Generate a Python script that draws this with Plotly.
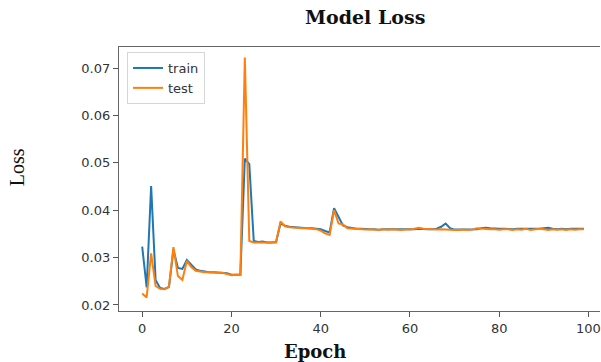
import plotly.graph_objects as go

epochs = list(range(100))

train_loss = [
    0.0323, 0.0237, 0.0451, 0.0253, 0.0236, 0.0234, 0.0238, 0.0317, 0.0278, 0.0276,
    0.0295, 0.0285, 0.0275, 0.0272, 0.0270, 0.0269, 0.0269, 0.0268, 0.0268, 0.0267,
    0.0264, 0.0264, 0.0264, 0.0509, 0.0497, 0.0335, 0.0333, 0.0334, 0.0332, 0.0332,
    0.0333, 0.0372, 0.0367, 0.0365, 0.0364, 0.0363, 0.0363, 0.0362, 0.0362, 0.0361,
    0.0360, 0.0356, 0.0353, 0.0404, 0.0386, 0.0368, 0.0364, 0.0362, 0.0361, 0.0361,
    0.0360, 0.0360, 0.0360, 0.0359, 0.0360, 0.0360, 0.0359, 0.0360, 0.0360, 0.0359,
    0.0360, 0.0360, 0.0361, 0.0360, 0.0360, 0.0360, 0.0361, 0.0365, 0.0372, 0.0362,
    0.0359, 0.0359, 0.0359, 0.0359, 0.0360, 0.0360, 0.0362, 0.0363, 0.0362, 0.0361,
    0.0361, 0.0361, 0.0360, 0.0360, 0.0361, 0.0361, 0.0360, 0.0360, 0.0361, 0.0361,
    0.0362, 0.0363, 0.0361, 0.0360, 0.0361, 0.0360, 0.0361, 0.0361, 0.0361, 0.0361,
]

test_loss = [
    0.0224, 0.0216, 0.0309, 0.0240, 0.0234, 0.0233, 0.0238, 0.0322, 0.0261, 0.0253,
    0.0293, 0.0280, 0.0272, 0.0270, 0.0269, 0.0269, 0.0268, 0.0268, 0.0268, 0.0266,
    0.0263, 0.0264, 0.0264, 0.0722, 0.0335, 0.0332, 0.0332, 0.0331, 0.0332, 0.0331,
    0.0332, 0.0376, 0.0366, 0.0364, 0.0363, 0.0362, 0.0362, 0.0362, 0.0361, 0.0360,
    0.0357, 0.0351, 0.0348, 0.0400, 0.0372, 0.0370, 0.0362, 0.0361, 0.0360, 0.0360,
    0.0359, 0.0360, 0.0359, 0.0358, 0.0360, 0.0359, 0.0360, 0.0359, 0.0358, 0.0359,
    0.0359, 0.0361, 0.0363, 0.0361, 0.0360, 0.0360, 0.0359, 0.0360, 0.0359, 0.0358,
    0.0358, 0.0358, 0.0359, 0.0358, 0.0359, 0.0362, 0.0361, 0.0361, 0.0360, 0.0360,
    0.0359, 0.0360, 0.0360, 0.0358, 0.0360, 0.0359, 0.0361, 0.0358, 0.0360, 0.0361,
    0.0360, 0.0358, 0.0360, 0.0359, 0.0360, 0.0358, 0.0360, 0.0359, 0.0360, 0.0360,
]

x_ticks = [0, 20, 40, 60, 80, 100]
y_ticks = [0.02, 0.03, 0.04, 0.05, 0.06, 0.07]

fig = go.Figure()
fig.add_trace(go.Scatter(x=epochs, y=train_loss, mode="lines", name="train",
                         line=dict(color="#1f77b4", width=2)))
fig.add_trace(go.Scatter(x=epochs, y=test_loss, mode="lines", name="test",
                         line=dict(color="#ff7f0e", width=2)))

tick_font = dict(family="DejaVu Sans", size=13, color="#333333")

fig.update_layout(
    width=601, height=362,
    margin=dict(l=119, r=1, t=47, b=51),
    paper_bgcolor="white", plot_bgcolor="white",
    showlegend=True,
    legend=dict(x=0.0166, y=0.981, xanchor="left", yanchor="top",
                bgcolor="rgba(255,255,255,0.85)", bordercolor="#d6d6d6", borderwidth=1,
                font=dict(family="DejaVu Sans", size=13, color="#333333"),
                tracegroupgap=0),
    xaxis=dict(range=[-5.2, 102.6], tickvals=x_ticks, ticks="outside", ticklen=5,
               tickcolor="#555555", showline=True, linecolor="#666666", linewidth=1.3,
               mirror=True, showgrid=False, zeroline=False, tickfont=tick_font),
    yaxis=dict(range=[0.01873, 0.07443], tickvals=y_ticks, tickformat=".2f",
               ticks="outside", ticklen=5, tickcolor="#555555", showline=True,
               linecolor="#666666", linewidth=1.3, mirror=False, showgrid=False,
               zeroline=False, tickfont=tick_font),
    annotations=[
        dict(text="<b>Model Loss</b>", xref="paper", yref="paper", x=0.511, y=1.1136,
             xanchor="center", yanchor="middle", showarrow=False,
             font=dict(family="DejaVu Serif", size=19, color="#111111")),
        dict(text="<b>Epoch</b>", xref="paper", yref="paper", x=0.407, y=-0.155,
             xanchor="center", yanchor="middle", showarrow=False,
             font=dict(family="DejaVu Serif", size=18, color="#111111")),
        dict(text="Loss", xref="paper", yref="paper", x=-0.212, y=0.545,
             xanchor="center", yanchor="middle", showarrow=False, textangle=-90,
             font=dict(family="Liberation Serif", size=20, color="#111111")),
    ],
)

fig.write_html("out.html")
